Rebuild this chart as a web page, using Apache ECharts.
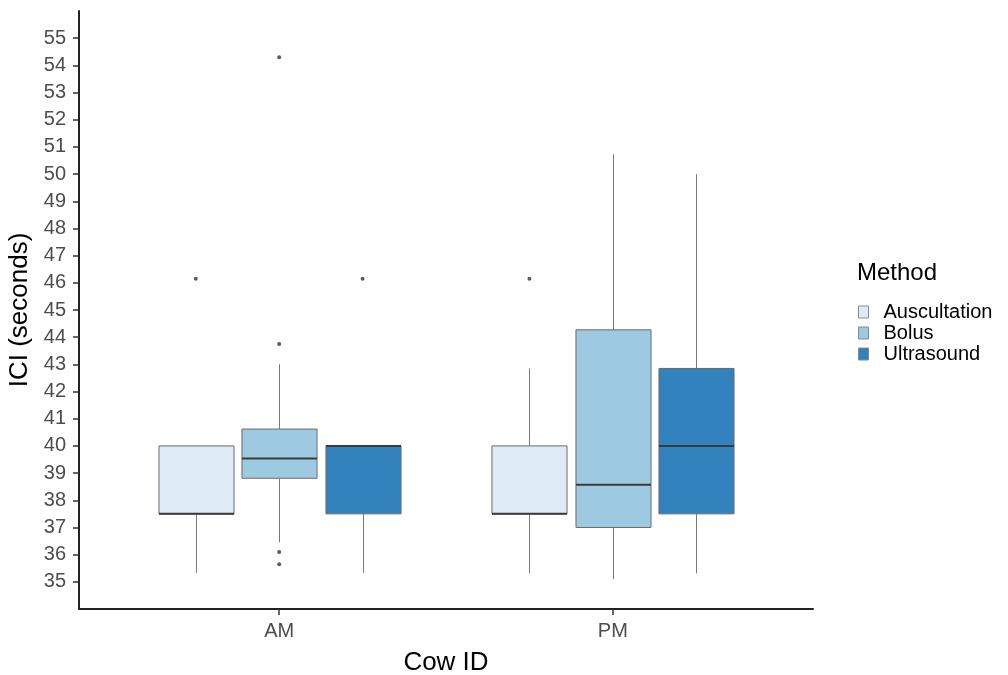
<!DOCTYPE html>
<html>
<head>
<meta charset="utf-8">
<title>ICI by method</title>
<script src="https://cdn.jsdelivr.net/npm/echarts@6/dist/echarts.min.js"></script>
<style>
  html, body { margin: 0; padding: 0; background: #fff; }
  #chart { width: 1008px; height: 675px; }
</style>
</head>
<body>
<div id="chart"></div>
<script>
const categories = ['AM', 'PM']
const methods = ['Auscultation', 'Bolus', 'Ultrasound']
const methodColors = ['#deebf7', '#9ecae1', '#3182bd']

// [low whisker, Q1, median, Q3, high whisker] for AM, PM
const auscultation = [[35.33, 37.5, 37.5, 40.0, 40.0], [35.31, 37.5, 37.5, 40.0, 42.85]]
const bolus = [[36.45, 38.81, 39.54, 40.62, 43.0], [35.1, 37.0, 38.57, 44.27, 50.73]]
const ultrasound = [[35.33, 37.5, 40.0, 40.0, 40.0], [35.31, 37.5, 40.0, 42.85, 50.0]]

const auscultationOutliers = [[46.15], [46.15]]
const bolusOutliers = [[54.3, 43.75, 36.1, 35.65], []]
const ultrasoundOutliers = [[46.15], []]

const yTicks = [35, 36, 37, 38, 39, 40, 41, 42, 43, 44, 45, 46, 47, 48, 49, 50, 51, 52, 53, 54, 55]

const boxStats = [auscultation, bolus, ultrasound]
const outliers = [auscultationOutliers, bolusOutliers, ultrasoundOutliers]
const dodge = [-0.25, 0, 0.25]
const boxWidth = 0.225
const font = '"Liberation Sans", Arial, sans-serif'

const chart = echarts.init(document.getElementById('chart'))

function renderBox(params, api) {
  const x = api.value(0)
  const low = api.coord([x, api.value(1)])
  const q1 = api.coord([x, api.value(2)])
  const med = api.coord([x, api.value(3)])
  const q3 = api.coord([x, api.value(4)])
  const high = api.coord([x, api.value(5)])
  const half = api.size([boxWidth, 0])[0] / 2
  const cx = Math.round(low[0]) + 0.5
  const whisker = { stroke: '#7a7a7a', lineWidth: 1 }
  return {
    type: 'group',
    children: [
      { type: 'line', shape: { x1: cx, y1: low[1], x2: cx, y2: q1[1] }, style: whisker },
      { type: 'line', shape: { x1: cx, y1: q3[1], x2: cx, y2: high[1] }, style: whisker },
      {
        type: 'rect',
        shape: { x: cx - half, y: q3[1], width: half * 2, height: q1[1] - q3[1] },
        style: { fill: api.visual('color'), stroke: '#6b6b6b', lineWidth: 1 }
      },
      {
        type: 'line',
        shape: { x1: cx - half, y1: med[1], x2: cx + half, y2: med[1] },
        style: { stroke: '#3a3a3a', lineWidth: 2 }
      }
    ]
  }
}

const series = []
methods.forEach((m, i) => {
  series.push({
    name: m,
    type: 'custom',
    renderItem: renderBox,
    itemStyle: { color: methodColors[i] },
    encode: { x: 0, y: [1, 2, 3, 4, 5] },
    data: boxStats[i].map((s, c) => [c + 1 + dodge[i]].concat(s)),
    z: 2
  })
})
methods.forEach((m, i) => {
  const pts = []
  outliers[i].forEach((vals, c) => vals.forEach(v => pts.push([c + 1 + dodge[i], v])))
  series.push({
    name: m + ' outliers',
    type: 'scatter',
    symbolSize: 4,
    itemStyle: { color: '#333333' },
    data: pts,
    z: 3
  })
})

chart.setOption({
  animation: false,
  textStyle: { fontFamily: font },
  title: {
    text: 'Method',
    left: 852,
    top: 256,
    textStyle: { fontFamily: font, fontSize: 24, fontWeight: 'normal', color: '#000' }
  },
  legend: {
    data: methods,
    orient: 'vertical',
    left: 853,
    top: 297,
    itemWidth: 10,
    itemHeight: 12,
    itemGap: 1,
    icon: 'rect',
    itemStyle: { borderColor: '#888', borderWidth: 1 },
    textStyle: { fontFamily: font, fontSize: 20, color: '#000', lineHeight: 18, padding: [0, 0, 0, 10] }
  },
  grid: { left: 79, right: 195, top: 11, bottom: 66, outerBoundsMode: 'none' },
  xAxis: {
    type: 'value',
    min: 0.4,
    max: 2.6,
    name: 'Cow ID',
    nameLocation: 'middle',
    nameGap: 41,
    nameTextStyle: { fontFamily: font, fontSize: 26, color: '#000' },
    axisLine: { lineStyle: { color: '#222', width: 2 } },
    axisTick: { customValues: [1, 2], length: 6, lineStyle: { color: '#333', width: 1.5 } },
    axisLabel: {
      customValues: [1, 2],
      formatter: v => categories[Math.round(v) - 1],
      fontFamily: font,
      fontSize: 20,
      color: '#4d4d4d',
      margin: 12
    },
    splitLine: { show: false }
  },
  yAxis: {
    type: 'value',
    min: 34,
    max: 56,
    name: 'ICI (seconds)',
    nameLocation: 'middle',
    nameGap: 46,
    nameTextStyle: { fontFamily: font, fontSize: 26, color: '#000' },
    axisLine: { show: true, lineStyle: { color: '#222', width: 2 } },
    axisTick: { show: true, customValues: yTicks, length: 6, lineStyle: { color: '#333', width: 1.5 } },
    axisLabel: {
      customValues: yTicks,
      fontFamily: font,
      fontSize: 20,
      color: '#4d4d4d',
      margin: 13
    },
    splitLine: { show: false }
  },
  series: series
})
</script>
</body>
</html>
